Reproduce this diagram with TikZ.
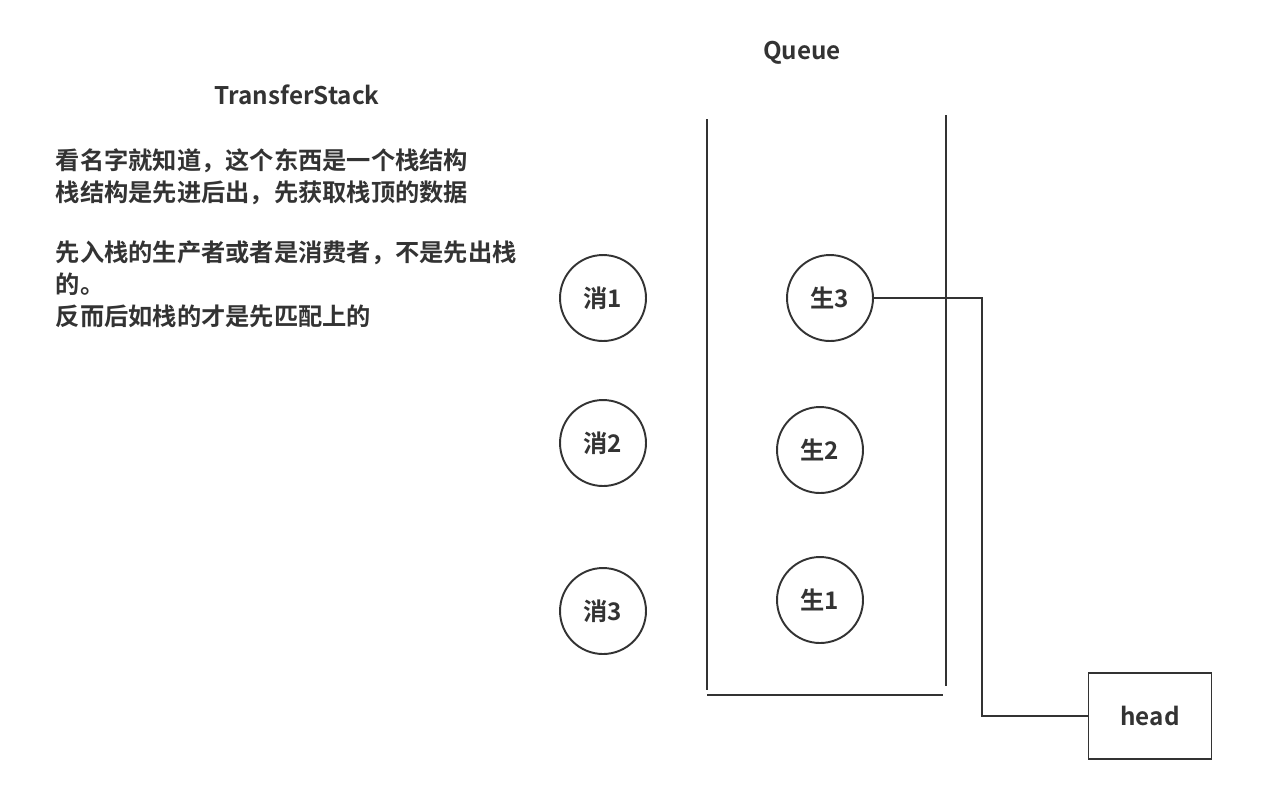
\documentclass[tikz,border=0pt]{standalone}
\usepackage{fontspec}
\setmainfont{Noto Sans CJK SC}[BoldFont={Noto Sans CJK SC Bold}]
\usepackage{tikz}
\definecolor{ink}{HTML}{333333}

\begin{document}
\begin{tikzpicture}[x=0.02cm, y=-0.02cm, line width=1.1pt, draw=ink, text=ink,
                    font=\fontsize{13.8}{17.6}\selectfont\bfseries]
        \tikzset{
           title/.style={
                        inner sep=0pt,
                        text=ink
                       },
           note/.style={
                        inner sep=0pt,
                        align=left,
                        anchor=north west,
                        font=\fontsize{13.8}{18.2}\selectfont\bfseries,
                        text=ink
                       },
           xiao/.style={
                        circle,
                        draw=ink,
                        fill=none,
                        minimum size=1.72cm,
                        inner sep=0pt,
                        text=ink
                       },
           sheng/.style={
                        circle,
                        draw=ink,
                        fill=none,
                        minimum size=1.72cm,
                        inner sep=0pt,
                        text=ink
                       },
           pointer/.style={
                        rectangle,
                        draw=ink,
                        fill=none,
                        minimum width=2.46cm,
                        minimum height=1.72cm,
                        text=ink
                       },
           wall/.style={
                        draw=ink
                       },
                 };
        \useasboundingbox (0,0) rectangle (1284,806);
    %--------------------
        \node[title]  (stackTitle) at (297,95)  {TransferStack};
        \node[title]  (queueTitle) at (802,53)  {Queue};

        \node[note]   (stackNote)  at (55,148)  {看名字就知道，这个东西是一个栈结构\\
                                                 栈结构是先进后出，先获取栈顶的数据\\[16pt]
                                                 先入栈的生产者或者是消费者，不是先出栈\\
                                                 的。\\
                                                 反而后如栈的才是先匹配上的};

        \node[xiao]   (xiao1)      at (603,298) {消1};
        \node[xiao]   (xiao2)      at (603,443) {消2};
        \node[xiao]   (xiao3)      at (603,611) {消3};

        \node[sheng]  (sheng3)     at (830,298) {生3};
        \node[sheng]  (sheng2)     at (820,450) {生2};
        \node[sheng]  (sheng1)     at (820,600) {生1};

        \node[pointer] (head)      at (1150,716) {head};
    %--------------------
        \coordinate (queueTL)  at (707,119);
        \coordinate (queueBL)  at (707,690);
        \coordinate (queueTR)  at (946,115);
        \coordinate (queueBR)  at (946,686);
        \coordinate (floorL)   at (707,695);
        \coordinate (floorR)   at (943,695);
        \coordinate (headTurn) at (982,298);

        \path[wall] (queueTL) edge (queueBL)
                    (queueTR) edge (queueBR)
                    (floorL)  edge (floorR);

        \draw[wall] (sheng3) -- (headTurn) |- (head);
    \end{tikzpicture}
\end{document}
